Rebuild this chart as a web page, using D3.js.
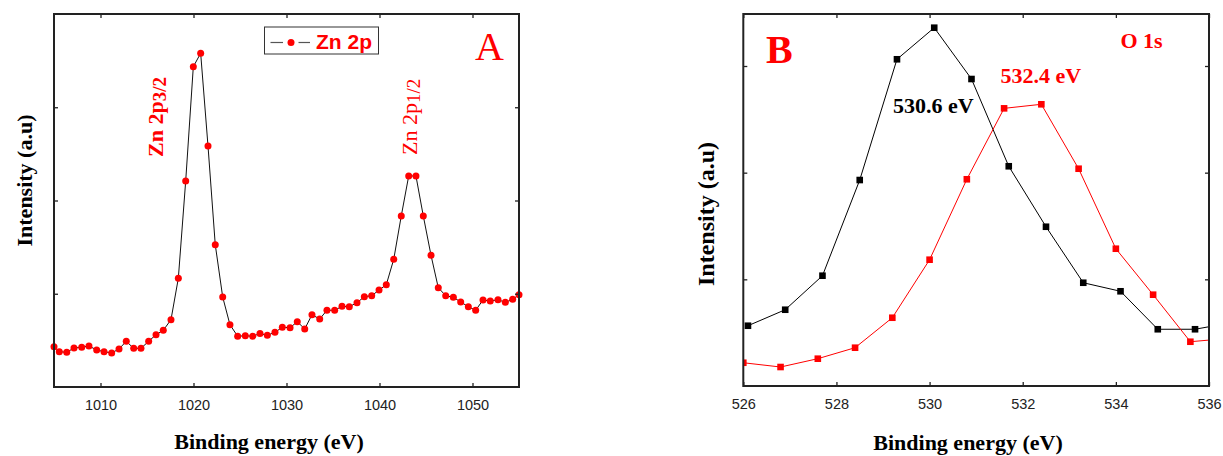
<!DOCTYPE html>
<html>
<head>
<meta charset="utf-8">
<script src="https://cdn.jsdelivr.net/npm/d3@7"></script>
<style>
  body { margin: 0; background: #fff; }
  svg { display: block; }
  .tick-label { font-family: "Liberation Sans", Arial, sans-serif; font-size: 14.5px; fill: #222; }
  .ax-title { font-family: "Liberation Serif", "Times New Roman", serif; font-weight: bold; fill: #000; }
</style>
</head>
<body>
<script>
// Zn 2p spectrum (panel A)
var znEnergy = [1005.0, 1005.57, 1006.37, 1007.15, 1007.98, 1008.76, 1009.59, 1010.38, 1011.2, 1011.99,
    1012.77, 1013.57, 1014.35, 1015.18, 1015.97, 1016.75, 1017.58, 1018.37, 1019.16, 1019.98,
    1020.77, 1021.56, 1022.34, 1023.14, 1023.92, 1024.75, 1025.57, 1026.37, 1027.15, 1027.94,
    1028.76, 1029.55, 1030.38, 1031.16, 1031.96, 1032.74, 1033.57, 1034.35, 1035.18, 1035.97,
    1036.75, 1037.58, 1038.37, 1039.16, 1039.95, 1040.73, 1041.53, 1042.34, 1043.14, 1043.92,
    1044.71, 1045.54, 1046.32, 1047.12, 1047.94, 1048.73, 1049.55, 1050.34, 1051.13, 1051.91,
    1052.74, 1053.53, 1054.32, 1055.0];
var znIntensity = [0.432, 0.379, 0.372, 0.418, 0.426, 0.44, 0.397, 0.379, 0.365, 0.408,
    0.49, 0.415, 0.415, 0.49, 0.561, 0.608, 0.722, 1.166, 2.209, 3.435,
    3.579, 2.584, 1.526, 0.965, 0.668, 0.544, 0.55, 0.544, 0.574, 0.554,
    0.587, 0.64, 0.636, 0.70, 0.622, 0.775, 0.729, 0.823, 0.823, 0.865,
    0.861, 0.904, 0.968, 0.979, 1.04, 1.097, 1.369, 1.834, 2.263, 2.263,
    1.834, 1.412, 1.065, 0.979, 0.962, 0.912, 0.861, 0.823, 0.933, 0.922,
    0.936, 0.908, 0.940, 0.990];
var znTicks = [1010, 1020, 1030, 1040, 1050];

// O 1s spectra (panel B)
var oEnergyBlack = [526.1, 526.9, 527.7, 528.5, 529.3, 530.1, 530.9, 531.7, 532.5, 533.3, 534.1, 534.9, 535.7, 536.5];
var oBlack = [0.565, 0.715, 1.034, 1.931, 3.063, 3.359, 2.878, 2.060, 1.493, 0.968, 0.888, 0.532, 0.532, 0.595];
var oEnergyRed = [526.0, 526.8, 527.6, 528.4, 529.2, 530.0, 530.8, 531.6, 532.4, 533.2, 534.0, 534.8, 535.6, 536.4];
var oRed = [0.218, 0.178, 0.256, 0.359, 0.640, 1.184, 1.938, 2.603, 2.641, 2.037, 1.287, 0.856, 0.415, 0.446];
var oTicks = [526, 528, 530, 532, 534, 536];

var W = 1223, H = 456;
var svg = d3.select("body").append("svg")
    .attr("width", W)
    .attr("height", H);

var serif = '"Liberation Serif", "Times New Roman", serif',
    sans = '"Liberation Sans", Arial, sans-serif';

// draws frame with inward ticks on all four sides, returns nothing
function drawFrame(g, x, y, xTicks, yTicks) {
    var x0 = x.range()[0], x1 = x.range()[1], y0 = y.range()[0], y1 = y.range()[1];
    var tk = 4;
    g.append("g").attr("transform", "translate(0," + y0 + ")")
        .call(d3.axisBottom(x).tickValues(xTicks).tickSize(-tk).tickPadding(12).tickFormat(d3.format("d")))
        .call(function(a) {
            a.select(".domain").remove();
            a.selectAll("text").attr("class", "tick-label").attr("dy", null).attr("y", 23);
        });
    g.append("g").attr("transform", "translate(0," + y1 + ")")
        .call(d3.axisTop(x).tickValues(xTicks).tickSize(-tk).tickFormat(""))
        .call(function(a) { a.select(".domain").remove(); });
    g.append("g").attr("transform", "translate(" + x0 + ",0)")
        .call(d3.axisLeft(y).tickValues(yTicks).tickSize(-tk).tickFormat(""))
        .call(function(a) { a.select(".domain").remove(); });
    g.append("g").attr("transform", "translate(" + x1 + ",0)")
        .call(d3.axisRight(y).tickValues(yTicks).tickSize(-tk).tickFormat(""))
        .call(function(a) { a.select(".domain").remove(); });
    g.selectAll(".tick line").attr("stroke", "#222").attr("stroke-width", 1.3);
    g.append("rect")
        .attr("x", x0).attr("y", y1)
        .attr("width", x1 - x0).attr("height", y0 - y1)
        .attr("fill", "none")
        .attr("stroke", "#222")
        .attr("stroke-width", 2);
}

// ---------- Panel A ----------
var xA = d3.scaleLinear().domain([1005, 1055]).range([54, 519]);
var yA = d3.scaleLinear().domain([0, 4]).range([387, 14]);
var gA = svg.append("g");

var znData = znEnergy.map(function(e, i) { return [e, znIntensity[i]]; });

gA.append("path")
    .datum(znData)
    .attr("fill", "none")
    .attr("stroke", "#111")
    .attr("stroke-width", 1)
    .attr("d", d3.line().x(function(d) { return xA(d[0]); }).y(function(d) { return yA(d[1]); }));

gA.selectAll(".zn-dot").data(znData).join("circle")
    .attr("class", "zn-dot")
    .attr("cx", function(d) { return xA(d[0]); })
    .attr("cy", function(d) { return yA(d[1]); })
    .attr("r", 3.5)
    .attr("fill", "#ff0000");

drawFrame(gA, xA, yA, znTicks, [1, 2, 3]);

// legend
var leg = gA.append("g");
leg.append("rect").attr("x", 264.5).attr("y", 27).attr("width", 114).attr("height", 27)
    .attr("fill", "#fff").attr("stroke", "#333").attr("stroke-width", 1);
leg.append("line").attr("x1", 270.5).attr("x2", 283).attr("y1", 42.5).attr("y2", 42.5)
    .attr("stroke", "#555").attr("stroke-width", 1.2);
leg.append("line").attr("x1", 298.5).attr("x2", 310).attr("y1", 42.5).attr("y2", 42.5)
    .attr("stroke", "#555").attr("stroke-width", 1.2);
leg.append("circle").attr("cx", 291).attr("cy", 42.5).attr("r", 3.5).attr("fill", "#ff0000");
leg.append("text").attr("x", 316).attr("y", 48.5)
    .style("font-family", sans).style("font-weight", "bold").style("font-size", "21px")
    .attr("fill", "#ff0000").text("Zn 2p");

gA.append("text").attr("x", 475).attr("y", 60)
    .style("font-family", serif).style("font-size", "40px")
    .attr("fill", "#ff0000").text("A");

// peak labels (rotated)
var p32 = gA.append("text")
    .attr("transform", "translate(163,157) rotate(-90)")
    .style("font-family", serif).style("font-weight", "bold").style("font-size", "22px")
    .attr("fill", "#ff0000");
p32.append("tspan").text("Zn 2p");
p32.append("tspan").attr("dy", 3).style("font-size", "19px").text("3/2");

var p12 = gA.append("text")
    .attr("transform", "translate(417,155) rotate(-90)")
    .style("font-family", serif).style("font-size", "22px")
    .attr("fill", "#ff0000");
p12.append("tspan").text("Zn 2p");
p12.append("tspan").attr("dy", 3).style("font-size", "19px").text("1/2");

gA.append("text").attr("class", "ax-title")
    .attr("x", 269).attr("y", 449).attr("text-anchor", "middle")
    .style("font-size", "22px").text("Binding energy (eV)");
gA.append("text").attr("class", "ax-title")
    .attr("transform", "translate(32,180.5) rotate(-90)").attr("text-anchor", "middle")
    .style("font-size", "22px").text("Intensity (a.u)");

// ---------- Panel B ----------
var xB = d3.scaleLinear().domain([526, 536]).range([743.3, 1209]);
var yB = d3.scaleLinear().domain([0, 3.4875]).range([386, 14]);
var gB = svg.append("g");

svg.append("defs").append("clipPath").attr("id", "clipB")
    .append("rect").attr("x", 743.3).attr("y", 14).attr("width", 1209 - 743.3).attr("height", 386 - 14);

function drawSeries(energy, vals, color) {
    var data = energy.map(function(e, i) { return [e, vals[i]]; });
    var s = gB.append("g").attr("clip-path", "url(#clipB)");
    s.append("path").datum(data)
        .attr("fill", "none")
        .attr("stroke", color)
        .attr("stroke-width", 1)
        .attr("d", d3.line().x(function(d) { return xB(d[0]); }).y(function(d) { return yB(d[1]); }));
    s.selectAll("rect").data(data).join("rect")
        .attr("x", function(d) { return xB(d[0]) - 3.3; })
        .attr("y", function(d) { return yB(d[1]) - 3.3; })
        .attr("width", 6.6).attr("height", 6.6)
        .attr("fill", color);
}
drawSeries(oEnergyBlack, oBlack, "#000");
drawSeries(oEnergyRed, oRed, "#ff0000");

drawFrame(gB, xB, yB, oTicks, [1, 2, 3]);

gB.append("text").attr("x", 766).attr("y", 62.5)
    .style("font-family", serif).style("font-weight", "bold").style("font-size", "40px")
    .attr("fill", "#ff0000").text("B");
gB.append("text").attr("x", 893).attr("y", 113)
    .style("font-family", serif).style("font-weight", "bold").style("font-size", "22px")
    .attr("fill", "#000").text("530.6 eV");
gB.append("text").attr("x", 1000.5).attr("y", 82.5)
    .style("font-family", serif).style("font-weight", "bold").style("font-size", "22px")
    .attr("fill", "#ff0000").text("532.4 eV");
gB.append("text").attr("x", 1120.5).attr("y", 48)
    .style("font-family", serif).style("font-weight", "bold").style("font-size", "22px")
    .attr("fill", "#ff0000").text("O 1s");

gB.append("text").attr("class", "ax-title")
    .attr("x", 968).attr("y", 450).attr("text-anchor", "middle")
    .style("font-size", "22px").text("Binding energy (eV)");
gB.append("text").attr("class", "ax-title")
    .attr("transform", "translate(714,214) rotate(-90)").attr("text-anchor", "middle")
    .style("font-size", "24px").text("Intensity (a.u)");
</script>
</body>
</html>
